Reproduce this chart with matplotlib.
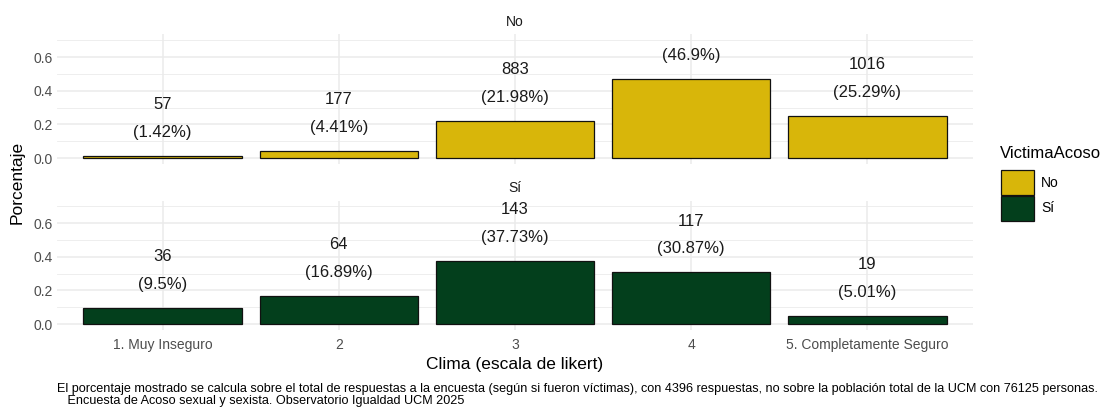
import numpy as np
import matplotlib
matplotlib.use('Agg')
import matplotlib.pyplot as plt
from matplotlib.patches import Patch

plt.rcParams['font.family'] = ['Liberation Sans', 'DejaVu Sans']

# datos
categorias = ['1. Muy Inseguro', '2', '3', '4', '5. Completamente Seguro']
grupos = ['No', 'Sí']
n_no = [57, 177, 883, 1884, 1016]
n_si = [36, 64, 143, 117, 19]
colores = {'No': '#D8B60A', 'Sí': '#033F1C'}

caption = ('El porcentaje mostrado se calcula sobre el total de respuestas a la encuesta (según si fueron víctimas), '
           'con 4396 respuestas, no sobre la población total de la UCM con 76125 personas.\n'
           '   Encuesta de Acoso sexual y sexista. Observatorio Igualdad UCM 2025')

W, H = 1105, 408
fig = plt.figure(figsize=(W / 100, H / 100), dpi=100)

left, right = 57 / W, 973 / W
paneles = [(34.5, 163.9), (200.5, 329.9)]  # top, bottom en px

x = np.arange(len(categorias))
for i, (grupo, cuentas) in enumerate(zip(grupos, [n_no, n_si])):
    top_px, bot_px = paneles[i]
    ax = fig.add_axes([left, 1 - bot_px / H, right - left, (bot_px - top_px) / H])
    cuentas = np.array(cuentas)
    pct = cuentas / cuentas.sum()
    ax.bar(x, pct, width=0.9, color=colores[grupo], edgecolor='#111111', linewidth=0.9, zorder=3)
    for xi, c, p in zip(x, cuentas, pct):
        ax.text(xi, p + 0.222, f'{c}\n({round(p * 100, 2):g}%)', ha='center', va='center',
                fontsize=12, color='#1A1A1A', linespacing=2.05, clip_on=True, zorder=4)
    ax.set_xlim(-0.6, len(categorias) - 0.4)
    ax.set_ylim(-0.035, 0.735)
    ax.set_yticks([0, 0.2, 0.4, 0.6])
    ax.set_yticks([0.1, 0.3, 0.5, 0.7], minor=True)
    ax.set_yticklabels(['0.0', '0.2', '0.4', '0.6'])
    ax.set_xticks(x)
    ax.grid(True, which='major', color='#EBEBEB', linewidth=1.1, zorder=0)
    ax.grid(True, which='minor', axis='y', color='#EBEBEB', linewidth=0.6, zorder=0)
    ax.tick_params(which='both', length=0, labelsize=10, labelcolor='#4D4D4D', pad=3)
    for s in ax.spines.values():
        s.set_visible(False)
    if i == 0:
        ax.set_xticklabels([])
    else:
        ax.set_xticklabels(categorias)
        ax.tick_params(axis='x', pad=6)
    ax.text(0.5, 1 + 12 / (bot_px - top_px), grupo, transform=ax.transAxes, ha='center', va='center',
            fontsize=10, color='#1A1A1A')

fig.text(17 / W, 1 - 182 / H, 'Porcentaje', rotation=90, ha='center', va='center', fontsize=12.5)
fig.text(515 / W, 1 - 365 / H, 'Clima (escala de likert)', ha='center', va='center', fontsize=12.5)

# leyenda
fig.text(1000 / W, 1 - 153 / H, 'VictimaAcoso', ha='left', va='center', fontsize=12)
handles = [Patch(facecolor=colores[g], edgecolor='#111111', linewidth=0.9) for g in grupos]
fig.legend(handles, grupos, loc='upper left',
           bbox_to_anchor=(998 / W, 1 - 167 / H), frameon=False, fontsize=10,
           handlelength=2.4, handleheight=2.4, handletextpad=0.5,
           labelspacing=0.05, borderaxespad=0, borderpad=0.2)

fig.text(57 / W, 1 - 395 / H, caption, ha='left', va='center', fontsize=9.1,
         linespacing=1.0)

fig.savefig('out.png', dpi=100)
